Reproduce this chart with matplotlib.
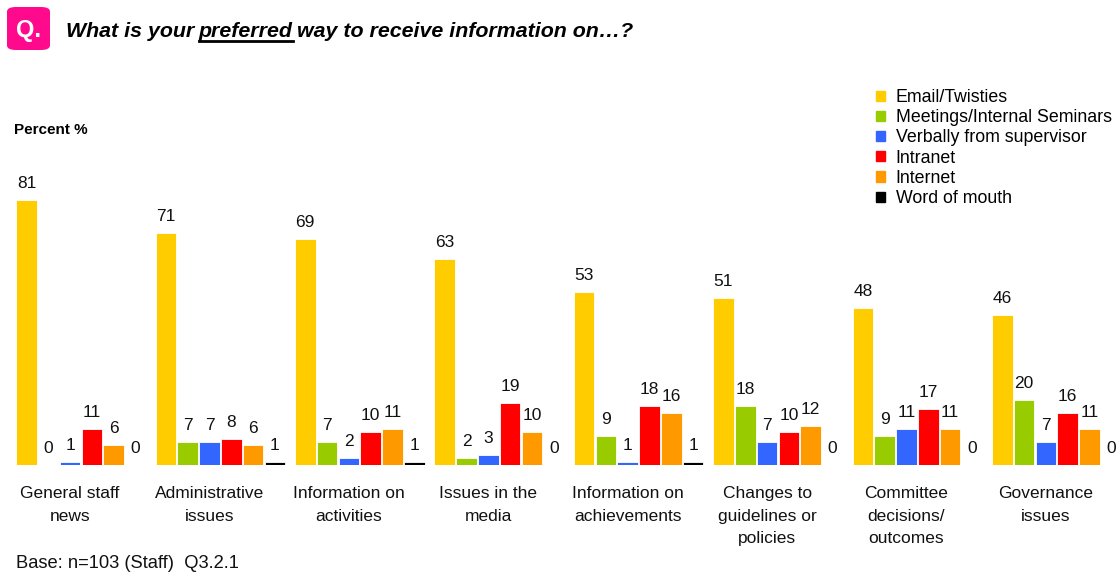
import numpy as np
import matplotlib
matplotlib.use('Agg')
import matplotlib.pyplot as plt
from matplotlib.patches import FancyBboxPatch, Rectangle
from matplotlib.lines import Line2D

plt.rcParams['font.family'] = ['Liberation Sans', 'DejaVu Sans']

categories = ['General staff\nnews', 'Administrative\nissues', 'Information on\nactivities',
              'Issues in the\nmedia', 'Information on\nachievements', 'Changes to\nguidelines or\npolicies',
              'Committee\ndecisions/\noutcomes', 'Governance\nissues']
series = ['Email/Twisties', 'Meetings/Internal Seminars', 'Verbally from supervisor',
          'Intranet', 'Internet', 'Word of mouth']
email    = [81, 71, 69, 63, 53, 51, 48, 46]
meetings = [0, 7, 7, 2, 9, 18, 9, 20]
verbally = [1, 7, 2, 3, 1, 7, 11, 7]
intranet = [11, 8, 10, 19, 18, 10, 17, 16]
internet = [6, 6, 11, 10, 16, 12, 11, 11]
word     = [0, 1, 1, 0, 1, 0, 0, 0]
values = [email, meetings, verbally, intranet, internet, word]
colors = ['#FFCC00', '#99CC00', '#3366FF', '#FF0000', '#FF9900', '#000000']

W, H = 1118, 573
fig = plt.figure(figsize=(W / 100, H / 100), dpi=100)

def fy(px):
    # pixel row from the top -> figure fraction
    return 1 - px / H

# axes: baseline at row 465, 3.27 px per percent, bar pitch 21.8 px
base, top = 465, 60
ax = fig.add_axes([0, fy(base), 1, (base - top) / H])
pitch = 21.8
ax.set_xlim(-26.5 / pitch, (W - 26.5) / pitch)
ax.set_ylim(0, (base - top) / 3.27)
for s in ax.spines.values():
    s.set_visible(False)
ax.set_yticks([])

group_x = np.arange(len(categories)) * 139.4 / pitch
handles = []
for j, (vals, c) in enumerate(zip(values, colors)):
    xs = group_x + j
    ax.bar(xs, vals, width=0.95, color=c, edgecolor='white', linewidth=0.6)
    handles.append(Rectangle((0, 0), 1, 1, color=c))
    for x, v in zip(xs, vals):
        ax.annotate(str(v), (x, v), xytext=(0, 6.5), textcoords='offset points',
                    ha='center', va='bottom', fontsize=12.5, color='#111111')

ax.set_xticks(group_x + 2, categories, fontsize=12.5, linespacing=1.65, color='#111111')
ax.tick_params(axis='x', length=0, pad=15)

# header
fig.patches.append(FancyBboxPatch((7 / W, fy(50)), 43 / W, 43 / H, boxstyle='round,pad=0,rounding_size=0.008',
                                  transform=fig.transFigure, facecolor='#FF0A8C', edgecolor='none'))
fig.text(28.5 / W, fy(30), 'Q.', color='white', fontsize=17, fontweight='bold', ha='center', va='center')

renderer = fig.canvas.get_renderer()
tkw = dict(fontsize=15.4, fontweight='bold', fontstyle='italic', va='baseline')
x0 = 66 / W
ybase = fy(37)
space = 4.5 / W
t1 = fig.text(x0, ybase, 'What is your', **tkw)
e1 = t1.get_window_extent(renderer)
t2 = fig.text(e1.x1 / W + space, ybase, 'preferred', **tkw)
e2 = t2.get_window_extent(renderer)
fig.lines.append(Line2D([e2.x0 / W, e2.x1 / W], [ybase - 4 / H, ybase - 4 / H],
                        transform=fig.transFigure, color='black', linewidth=2))
fig.text(e2.x1 / W + space, ybase, 'way to receive information on\u2026?', **tkw)

fig.text(14 / W, fy(130), 'Percent %', fontsize=11, fontweight='bold', va='center')
fig.text(16 / W, fy(563), 'Base: n=103 (Staff)  Q3.2.1', fontsize=13.2, va='center', color='#111111')

fig.legend(handles, series, loc='upper left', bbox_to_anchor=(876 / W, fy(89)), frameon=False,
           fontsize=12.8, handlelength=0.5, handleheight=0.5, handletextpad=0.6,
           labelspacing=0.18, borderaxespad=0, borderpad=0)

fig.savefig('out.png', dpi=100)
